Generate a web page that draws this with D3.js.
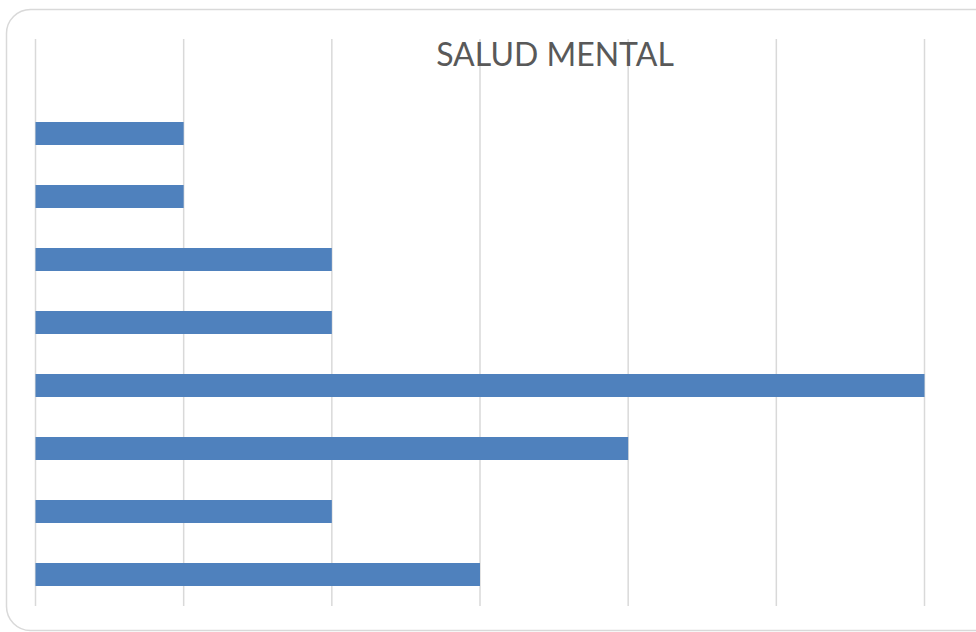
<!DOCTYPE html>
<html>
<head>
<meta charset="utf-8">
<script src="https://cdn.jsdelivr.net/npm/d3@7.9.0/dist/d3.min.js"></script>
<style>
  html, body { margin: 0; padding: 0; background: #fff; }
  svg { display: block; }
</style>
</head>
<body>
<div id="chart"></div>
<script>
// categories listed bottom to top (Excel bar order); labels are not shown in the chart
const categories = ['c1', 'c2', 'c3', 'c4', 'c5', 'c6', 'c7', 'c8', 'c9'];
const values = [3, 2, 4, 6, 2, 2, 1, 1, 0];
const ticks = [0, 1, 2, 3, 4, 5, 6];
const title = 'SALUD MENTAL';

const width = 976;
const height = 632;

const svg = d3.select('#chart')
  .append('svg')
  .attr('width', width)
  .attr('height', height);

// chart frame (runs past the right and bottom edge)
svg.append('rect')
  .attr('x', 6.5)
  .attr('y', 9.5)
  .attr('width', 1000)
  .attr('height', 621)
  .attr('rx', 24)
  .attr('fill', '#fff')
  .attr('stroke', '#d9d9d9')
  .attr('stroke-width', 1.5);

const x = d3.scaleLinear()
  .domain([0, 6])
  .range([35.5, 924.5]);

const y = d3.scaleBand()
  .domain(categories)
  .range([606, 39])
  .paddingInner(0.635)
  .paddingOuter(0.3175);

// gridlines
svg.append('g')
  .selectAll('line')
  .data(ticks)
  .join('line')
  .attr('x1', d => x(d))
  .attr('x2', d => x(d))
  .attr('y1', 39)
  .attr('y2', 606)
  .attr('stroke', '#d9d9d9')
  .attr('stroke-width', 1.5);

// bars
svg.append('g')
  .selectAll('rect')
  .data(categories.map((c, i) => ({ c, v: values[i] })))
  .join('rect')
  .attr('x', x(0))
  .attr('y', d => y(d.c))
  .attr('width', d => x(d.v) - x(0))
  .attr('height', y.bandwidth())
  .attr('fill', '#4f81bd');

svg.append('text')
  .attr('x', 555)
  .attr('y', 65.5)
  .attr('text-anchor', 'middle')
  .attr('font-family', 'Lato, "Open Sans", sans-serif')
  .attr('font-size', 32)
  .attr('fill', '#595959')
  .text(title);
</script>
</body>
</html>
